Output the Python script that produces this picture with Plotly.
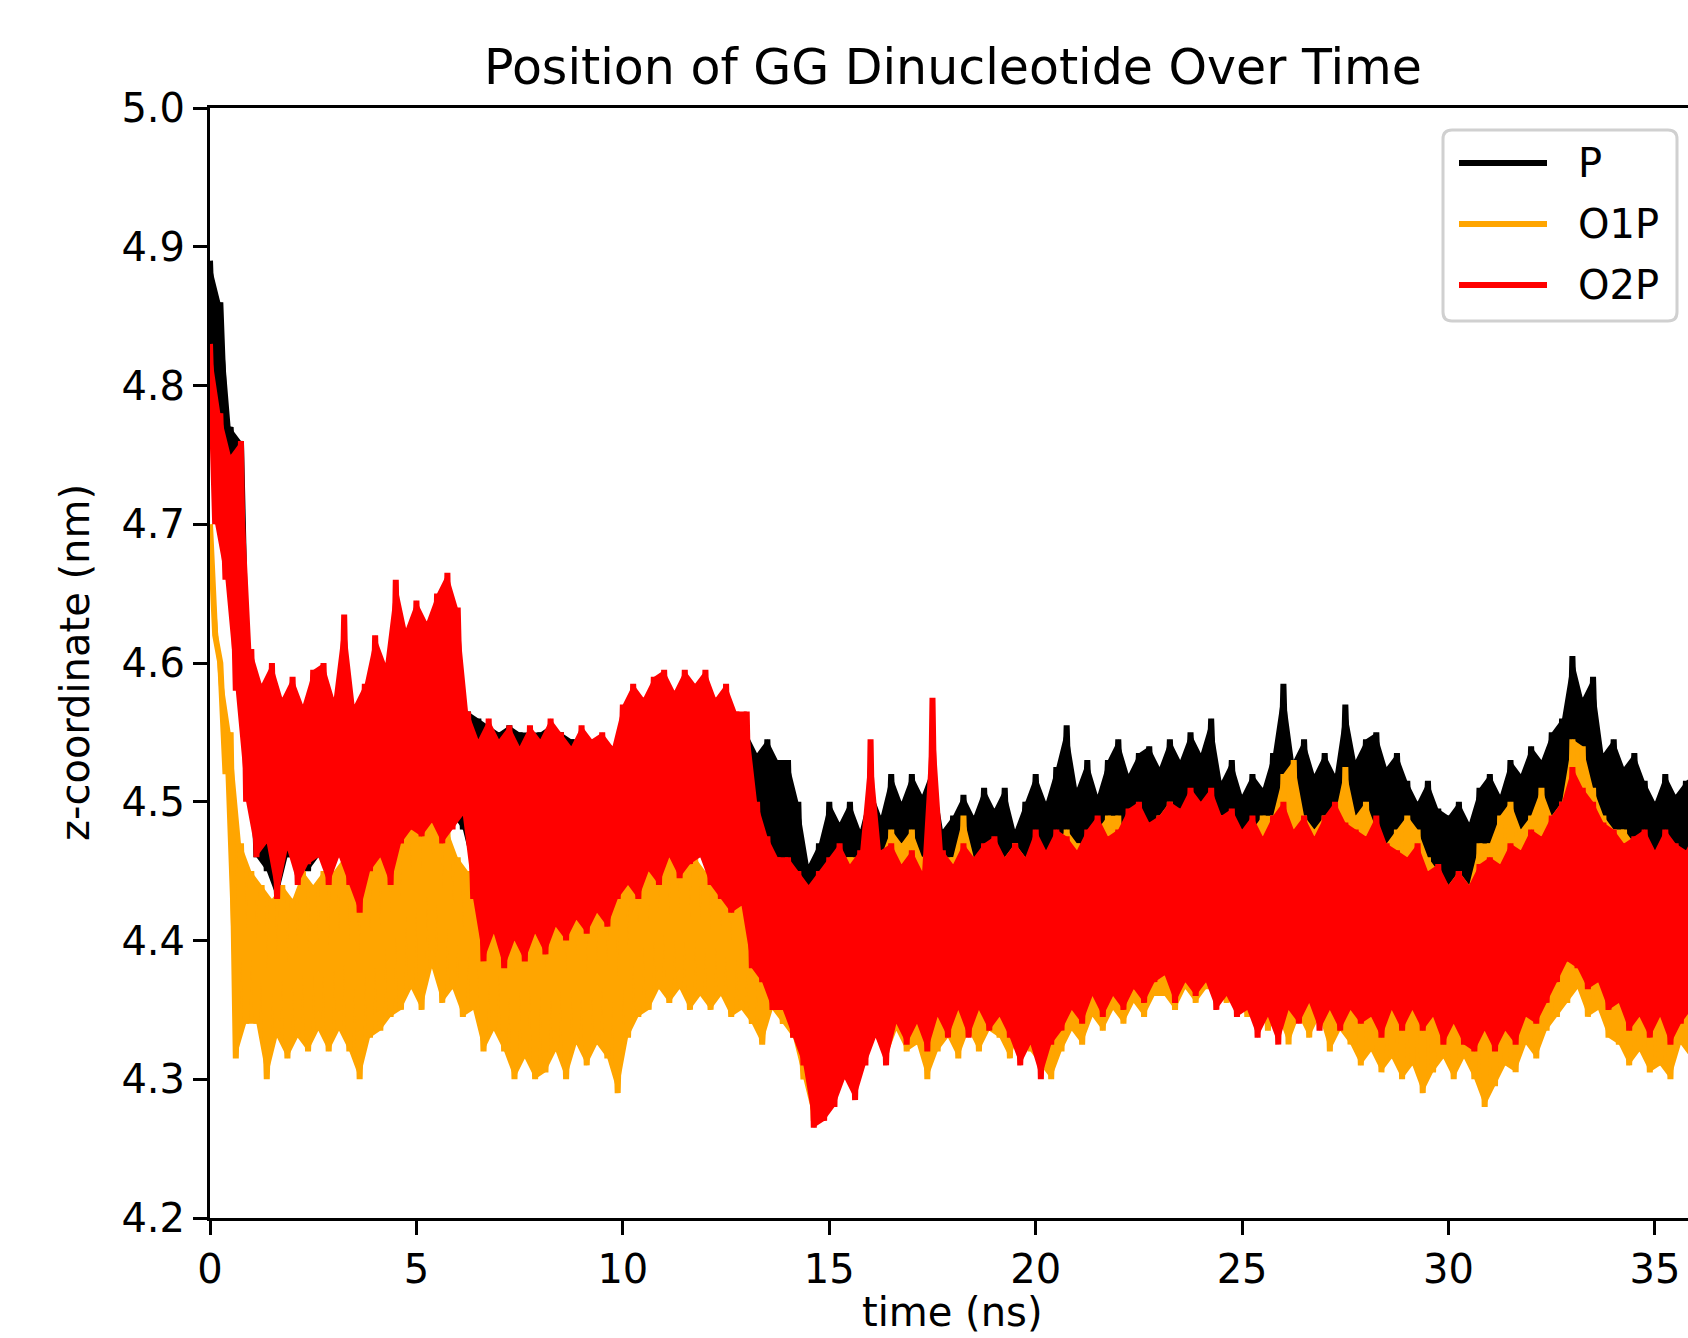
import plotly.graph_objects as go

# ---------------- data ----------------
# samples every 0.25 ns; for each sample the upper (hi) and lower (lo) excursion
time_ns = [round(0.25 * i, 2) for i in range(145)]
HALF_STEP = 0.125

p_hi = [
    4.89, 4.86, 4.77, 4.76,
    4.57, 4.56, 4.57, 4.56,
    4.57, 4.56, 4.57, 4.56,
    4.56, 4.57, 4.56, 4.56,
    4.57, 4.58, 4.58, 4.58,
    4.59, 4.58, 4.59, 4.58,
    4.57, 4.565, 4.56, 4.555,
    4.55, 4.555, 4.55, 4.55,
    4.55, 4.555, 4.55, 4.545,
    4.545, 4.54, 4.545, 4.54,
    4.55, 4.56, 4.56, 4.56,
    4.56, 4.56, 4.56, 4.56,
    4.56, 4.555, 4.55, 4.55,
    4.55, 4.535, 4.545, 4.53,
    4.53, 4.50, 4.455, 4.47,
    4.50, 4.485, 4.50, 4.48,
    4.51, 4.49, 4.52, 4.50,
    4.52, 4.505, 4.525, 4.48,
    4.49, 4.505, 4.49, 4.51,
    4.495, 4.51, 4.48, 4.50,
    4.52, 4.50, 4.525, 4.555,
    4.51, 4.53, 4.505, 4.53,
    4.545, 4.52, 4.535, 4.54,
    4.525, 4.545, 4.53, 4.55,
    4.535, 4.56, 4.515, 4.53,
    4.505, 4.52, 4.51, 4.535,
    4.585, 4.53, 4.545, 4.52,
    4.535, 4.52, 4.57, 4.53,
    4.545, 4.55, 4.525, 4.535,
    4.515, 4.50, 4.515, 4.495,
    4.49, 4.50, 4.485, 4.51,
    4.52, 4.505, 4.53, 4.52,
    4.54, 4.53, 4.55, 4.56,
    4.605, 4.575, 4.59, 4.535,
    4.545, 4.525, 4.535, 4.515,
    4.50, 4.52, 4.505, 4.515,
    4.52,
]
p_lo = [
    4.78, 4.76, 4.70, 4.60,
    4.46, 4.45, 4.43, 4.46,
    4.46, 4.45, 4.46, 4.46,
    4.47, 4.46, 4.46, 4.47,
    4.47, 4.48, 4.49, 4.48,
    4.50, 4.49, 4.50, 4.49,
    4.48, 4.45, 4.43, 4.44,
    4.43, 4.44, 4.43, 4.44,
    4.44, 4.45, 4.44, 4.45,
    4.44, 4.45, 4.45, 4.46,
    4.46, 4.47, 4.47, 4.48,
    4.47, 4.48, 4.48, 4.47,
    4.46, 4.46, 4.45, 4.45,
    4.43, 4.42, 4.41, 4.40,
    4.38, 4.35, 4.33, 4.36,
    4.39, 4.40, 4.40, 4.41,
    4.41, 4.42, 4.41, 4.42,
    4.41, 4.42, 4.42, 4.41,
    4.41, 4.41, 4.42, 4.41,
    4.41, 4.40, 4.41, 4.42,
    4.42, 4.42, 4.43, 4.43,
    4.43, 4.43, 4.44, 4.44,
    4.44, 4.44, 4.45, 4.45,
    4.45, 4.45, 4.45, 4.46,
    4.45, 4.46, 4.44, 4.44,
    4.43, 4.43, 4.44, 4.44,
    4.45, 4.44, 4.44, 4.43,
    4.44, 4.44, 4.45, 4.44,
    4.44, 4.44, 4.43, 4.43,
    4.42, 4.42, 4.41, 4.41,
    4.40, 4.40, 4.40, 4.41,
    4.42, 4.42, 4.43, 4.43,
    4.44, 4.44, 4.45, 4.46,
    4.47, 4.47, 4.46, 4.45,
    4.44, 4.44, 4.43, 4.43,
    4.42, 4.42, 4.42, 4.42,
    4.42,
]

o1p_hi = [
    4.70, 4.60, 4.55, 4.47,
    4.45, 4.44, 4.43, 4.44,
    4.43, 4.45, 4.44, 4.45,
    4.45, 4.46, 4.45, 4.46,
    4.46, 4.47, 4.48, 4.50,
    4.52, 4.525, 4.51, 4.48,
    4.46, 4.45, 4.44, 4.43,
    4.44, 4.43, 4.44, 4.45,
    4.44, 4.43, 4.44, 4.43,
    4.43, 4.42, 4.43, 4.43,
    4.44, 4.45, 4.46, 4.46,
    4.47, 4.46, 4.47, 4.46,
    4.45, 4.45, 4.44, 4.44,
    4.42, 4.41, 4.40, 4.41,
    4.40, 4.38, 4.36, 4.44,
    4.45, 4.46, 4.46, 4.46,
    4.47, 4.46, 4.48, 4.47,
    4.48, 4.46, 4.47, 4.46,
    4.46, 4.49, 4.46, 4.46,
    4.47, 4.46, 4.47, 4.46,
    4.47, 4.46, 4.47, 4.48,
    4.47, 4.47, 4.48, 4.49,
    4.49, 4.47, 4.49, 4.48,
    4.49, 4.50, 4.49, 4.50,
    4.49, 4.50, 4.49, 4.48,
    4.47, 4.48, 4.49, 4.49,
    4.52, 4.53, 4.49, 4.48,
    4.49, 4.49, 4.525, 4.49,
    4.50, 4.48, 4.47, 4.48,
    4.49, 4.48, 4.46, 4.45,
    4.44, 4.45, 4.44, 4.47,
    4.47, 4.49, 4.50, 4.48,
    4.49, 4.51, 4.49, 4.50,
    4.545, 4.54, 4.51, 4.49,
    4.48, 4.48, 4.47, 4.47,
    4.46, 4.47, 4.46, 4.46,
    4.47,
]
o1p_lo = [
    4.62, 4.52, 4.315, 4.34,
    4.34, 4.30, 4.33, 4.315,
    4.33, 4.32, 4.335, 4.32,
    4.335, 4.32, 4.30, 4.33,
    4.335, 4.345, 4.35, 4.365,
    4.35, 4.38, 4.355, 4.365,
    4.345, 4.35, 4.32, 4.335,
    4.32, 4.30, 4.315, 4.30,
    4.305, 4.32, 4.30, 4.325,
    4.31, 4.325, 4.315, 4.29,
    4.33, 4.345, 4.35, 4.365,
    4.355, 4.365, 4.35, 4.36,
    4.35, 4.36, 4.345, 4.35,
    4.34, 4.325, 4.35, 4.34,
    4.33, 4.30, 4.27, 4.28,
    4.29, 4.31, 4.30, 4.325,
    4.33, 4.315, 4.335, 4.32,
    4.325, 4.30, 4.32, 4.33,
    4.315, 4.335, 4.32, 4.335,
    4.33, 4.315, 4.335, 4.32,
    4.31, 4.30, 4.32, 4.335,
    4.325, 4.345, 4.335, 4.35,
    4.34, 4.355, 4.345, 4.36,
    4.36, 4.35, 4.365, 4.355,
    4.365, 4.37, 4.355, 4.365,
    4.345, 4.355, 4.335, 4.345,
    4.325, 4.345, 4.33, 4.345,
    4.32, 4.335, 4.325, 4.31,
    4.32, 4.305, 4.315, 4.30,
    4.31, 4.29, 4.305, 4.315,
    4.30, 4.315, 4.30, 4.28,
    4.295, 4.31, 4.305, 4.325,
    4.315, 4.335, 4.345, 4.355,
    4.365, 4.345, 4.35, 4.33,
    4.325, 4.31, 4.32, 4.305,
    4.31, 4.30, 4.325, 4.315,
    4.32,
]

o2p_hi = [
    4.83, 4.78, 4.75, 4.76,
    4.61, 4.585, 4.60, 4.575,
    4.59, 4.57, 4.595, 4.60,
    4.575, 4.635, 4.57, 4.585,
    4.62, 4.60, 4.66, 4.625,
    4.645, 4.63, 4.65, 4.665,
    4.64, 4.565, 4.545, 4.56,
    4.545, 4.555, 4.54, 4.555,
    4.545, 4.56, 4.55, 4.54,
    4.555, 4.545, 4.55, 4.54,
    4.57, 4.585, 4.575, 4.59,
    4.595, 4.58, 4.595, 4.585,
    4.595, 4.575, 4.585, 4.565,
    4.565, 4.50, 4.475, 4.46,
    4.46, 4.45, 4.44, 4.45,
    4.46, 4.47, 4.455, 4.465,
    4.545, 4.465, 4.47, 4.455,
    4.465, 4.45, 4.575, 4.465,
    4.455, 4.47, 4.46, 4.47,
    4.475, 4.46, 4.47, 4.46,
    4.48, 4.465, 4.48, 4.475,
    4.465, 4.48, 4.49, 4.475,
    4.48, 4.495, 4.50, 4.485,
    4.49, 4.50, 4.495, 4.51,
    4.50, 4.51, 4.49, 4.495,
    4.48, 4.49, 4.475, 4.49,
    4.50, 4.48, 4.49, 4.475,
    4.49, 4.50, 4.485, 4.48,
    4.475, 4.49, 4.47, 4.465,
    4.46, 4.47, 4.45, 4.455,
    4.44, 4.45, 4.44, 4.455,
    4.46, 4.455, 4.47, 4.465,
    4.48, 4.475, 4.49, 4.50,
    4.525, 4.51, 4.50, 4.485,
    4.48, 4.47, 4.475, 4.48,
    4.465, 4.48, 4.47, 4.465,
    4.48,
]
o2p_lo = [
    4.70, 4.66, 4.58, 4.50,
    4.46, 4.47, 4.43, 4.465,
    4.44, 4.455, 4.46, 4.44,
    4.46, 4.44, 4.42, 4.45,
    4.46, 4.44, 4.47, 4.48,
    4.475, 4.485, 4.47, 4.48,
    4.49, 4.43, 4.385, 4.405,
    4.38, 4.40, 4.385, 4.405,
    4.39, 4.41, 4.40, 4.415,
    4.405, 4.42, 4.41, 4.43,
    4.44, 4.43, 4.45, 4.44,
    4.46, 4.445, 4.455, 4.46,
    4.44, 4.43, 4.42, 4.425,
    4.38, 4.37, 4.35, 4.35,
    4.33, 4.31, 4.265, 4.27,
    4.28, 4.30, 4.285, 4.31,
    4.33, 4.31, 4.34, 4.325,
    4.34, 4.32, 4.345, 4.33,
    4.35, 4.33, 4.35, 4.335,
    4.345, 4.33, 4.31, 4.325,
    4.30, 4.325, 4.335, 4.35,
    4.34, 4.36, 4.345, 4.36,
    4.35, 4.365, 4.355, 4.37,
    4.375, 4.355, 4.37, 4.36,
    4.37, 4.35, 4.36, 4.345,
    4.35, 4.33, 4.345, 4.325,
    4.35, 4.34, 4.355, 4.335,
    4.35, 4.335, 4.35, 4.34,
    4.345, 4.33, 4.35, 4.335,
    4.35, 4.335, 4.345, 4.325,
    4.34, 4.325, 4.32, 4.335,
    4.32, 4.335, 4.325, 4.345,
    4.34, 4.355, 4.37, 4.385,
    4.38, 4.365, 4.37, 4.35,
    4.355, 4.335, 4.345, 4.33,
    4.345, 4.325, 4.34, 4.35,
    4.35,
]

series_names = ["P", "O1P", "O2P"]
series_colors = ["#000000", "#ffa500", "#ff0000"]
series_hi = [p_hi, o1p_hi, o2p_hi]
series_lo = [p_lo, o1p_lo, o2p_lo]

x_tick_values = [0, 5, 10, 15, 20, 25, 30, 35]
y_tick_values = [4.2, 4.3, 4.4, 4.5, 4.6, 4.7, 4.8, 4.9, 5.0]
y_tick_labels = ["4.2", "4.3", "4.4", "4.5", "4.6", "4.7", "4.8", "4.9", "5.0"]

title_text = "Position of GG Dinucleotide Over Time"
x_label = "time (ns)"
y_label = "z-coordinate (nm)"

# ---------------- figure ----------------
W, H = 1688, 1338
ML, MR, MT, MB = 210, 0, 108, 120
PW, PH = W - ML - MR, H - MT - MB
FONT = "DejaVu Sans"


def px_x(px):
    return (px - ML) / PW


def px_y(py):
    return (H - MB - py) / PH


fig = go.Figure()
for name, color, hi, lo in zip(series_names, series_colors, series_hi, series_lo):
    lo_times = [t + HALF_STEP for t in time_ns]
    # solid body of the fast-fluctuating trajectory
    fig.add_trace(go.Scatter(
        x=list(time_ns) + lo_times[::-1], y=list(hi) + list(lo)[::-1],
        mode="lines", fill="toself", fillcolor=color, showlegend=False,
        line=dict(color=color, width=0), hoverinfo="skip",
    ))
    # the oscillating trajectory itself
    xs, ys = [], []
    for t, tl, a, b in zip(time_ns, lo_times, hi, lo):
        xs += [t, tl]
        ys += [a, b]
    fig.add_trace(go.Scatter(
        x=xs, y=ys, mode="lines", name=name, showlegend=False,
        line=dict(color=color, width=6, simplify=False),
        hoverinfo="skip",
    ))

# legend drawn like matplotlib's (rounded frame, long line samples)
lx0, lx1 = px_x(1443), px_x(1677)
ly0, ly1 = px_y(321), px_y(130)
rx, ry = 9 / PW, 9 / PH
frame = (f"M {lx0+rx},{ly0} L {lx1-rx},{ly0} Q {lx1},{ly0} {lx1},{ly0+ry} "
         f"L {lx1},{ly1-ry} Q {lx1},{ly1} {lx1-rx},{ly1} L {lx0+rx},{ly1} "
         f"Q {lx0},{ly1} {lx0},{ly1-ry} L {lx0},{ly0+ry} Q {lx0},{ly0} {lx0+rx},{ly0} Z")
shapes = [dict(type="path", xref="paper", yref="paper", path=frame,
               line=dict(color="#d0d0d0", width=3), fillcolor="rgba(255,255,255,0.85)")]
annotations = []
row_y = [163, 224, 285]
for name, color, yy in zip(series_names, series_colors, row_y):
    shapes.append(dict(type="line", xref="paper", yref="paper",
                       x0=px_x(1459), x1=px_x(1547), y0=px_y(yy), y1=px_y(yy),
                       line=dict(color=color, width=6)))
    annotations.append(dict(xref="paper", yref="paper", x=px_x(1576), y=px_y(yy),
                            xanchor="left", yanchor="middle", text=name, showarrow=False,
                            font=dict(family=FONT, size=40, color="#000000")))

annotations.append(dict(xref="paper", yref="paper", x=px_x(953), y=px_y(1337),
                        xanchor="center", yanchor="bottom", text=x_label, showarrow=False,
                        font=dict(family=FONT, size=40, color="#000000")))
annotations.append(dict(xref="paper", yref="paper", x=px_x(75), y=px_y(663),
                        xanchor="center", yanchor="middle", text=y_label, showarrow=False,
                        textangle=-90, font=dict(family=FONT, size=40, color="#000000")))

fig.update_layout(
    width=W, height=H,
    margin=dict(l=ML, r=MR, t=MT, b=MB, pad=0),
    paper_bgcolor="white", plot_bgcolor="white",
    font=dict(family=FONT, size=40, color="#000000"),
    title=dict(text=title_text, x=px_x(953), xref="paper", xanchor="center",
               y=1 - 67 / H, yref="container", yanchor="middle",
               font=dict(family=FONT, size=49, color="#000000")),
    shapes=shapes, annotations=annotations, showlegend=False,
)
fig.update_xaxes(range=[0, 35.8], tickvals=x_tick_values, showgrid=False, zeroline=False,
                 showline=True, linecolor="#000000", linewidth=3, mirror=True,
                 ticks="outside", ticklen=14, tickwidth=3, tickcolor="#000000",
                 tickfont=dict(family=FONT, size=40, color="#000000"))
fig.update_yaxes(range=[4.2, 5.0], tickvals=y_tick_values, ticktext=y_tick_labels,
                 showgrid=False, zeroline=False,
                 showline=True, linecolor="#000000", linewidth=3, mirror=False,
                 ticks="outside", ticklen=14, tickwidth=3, tickcolor="#000000",
                 tickfont=dict(family=FONT, size=40, color="#000000"))

fig.write_html("out.html")
